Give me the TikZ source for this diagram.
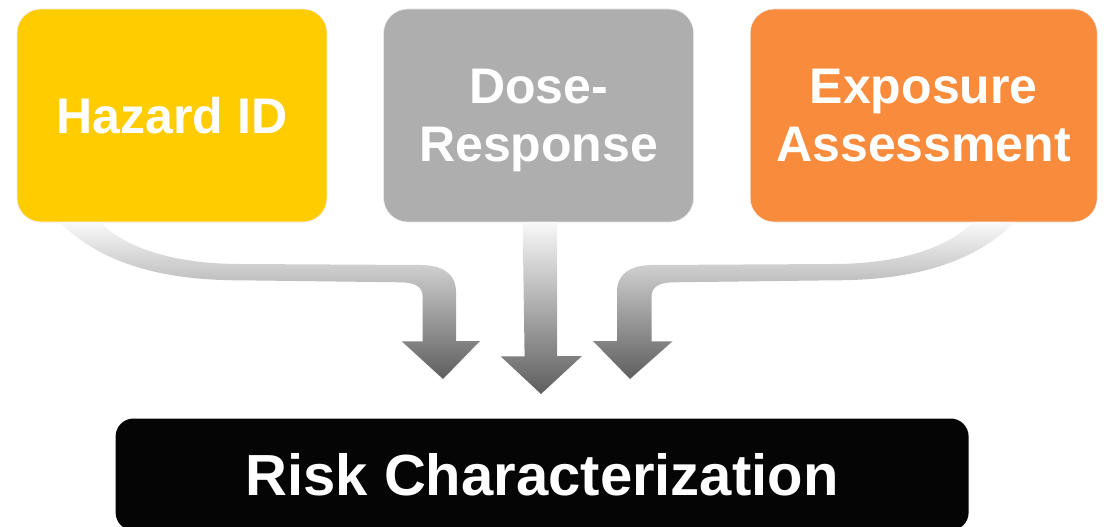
\documentclass[tikz,border=0pt]{standalone}
\usepackage{fontspec}
\setmainfont{Liberation Sans}
\usepackage{xcolor}
\usetikzlibrary{positioning,calc}
\definecolor{hazyellow}{HTML}{FFCC00}
\definecolor{dosegray}{HTML}{AEAEAE}
\definecolor{exporange}{HTML}{F98B3C}
\definecolor{riskblack}{HTML}{050505}
\definecolor{flowtop}{HTML}{FAF9F9}
\definecolor{flowmid}{HTML}{DCD3D8}
\definecolor{flowbot}{HTML}{5E5E5E}

\begin{document}
\begin{tikzpicture}[
  x=1pt, y=-1pt,
  stagebox/.style={rounded corners=24pt, align=center, text=white, inner sep=0pt,
    minimum width=310pt, minimum height=213pt, draw=black!7, line width=0.6pt,
    text depth=0pt, font=\fontsize{50}{57.5}\selectfont\bfseries},
  riskbox/.style={rounded corners=18pt, fill=riskblack, text=white, inner sep=0pt,
    minimum width=853pt, minimum height=112pt,
    font=\fontsize{58}{66}\selectfont\bfseries},
  flow/.style={top color=flowtop, middle color=flowmid, bottom color=flowbot, draw=none}
]
\useasboundingbox (0,0) rectangle (1104,527);

\node[stagebox, fill=hazyellow] (haz) at (172,115.5) {Hazard ID};
\node[stagebox, fill=dosegray, right=56pt of haz] (dose) {Dose-\\Response};
\node[stagebox, fill=exporange, minimum width=347pt, right=56pt of dose] (exp) {Exposure\\Assessment};
\node[riskbox, below=196pt of dose, xshift=3.5pt] (risk) {Risk Characterization};

\coordinate (tipL) at (443,379);
\coordinate (tipM) at (541,394);
\coordinate (tipR) at (630,379);

% curved arrow from hazard box
\path[flow] ($(haz.south west)+(43,0)$) .. controls +(40,40) and +(-80,0) .. ++(180,58)
  -- ++(160,2) .. controls +(18,0) and +(0,-9) .. ++(23,15)
  -- ++(0,44) -- ++(-21,0) -- (tipL) -- ++(37,-38) -- ++(-24,0) -- ++(0,-49)
  .. controls +(0,-20) and +(20,0) .. ++(-36,-27)
  -- ++(-180,-1) .. controls +(-65,0) and +(25,26) .. ++(-140,-42) -- cycle;

% straight arrow from dose-response box
\path[flow] ($(dose.south)+(-16,0)$) -- ++(2,134) -- ++(-24,0) -- (tipM)
  -- ++(41,-38) -- ++(-25,0) -- ++(0,-134) -- cycle;

% curved arrow from exposure box
\path[flow] ($(exp.south east)+(-83,0)$) .. controls +(-40,40) and +(80,0) .. ++(-180,58)
  -- ++(-160,2) .. controls +(-18,0) and +(0,-9) .. ++(-23,15)
  -- ++(0,44) -- ++(21,0) -- (tipR) -- ++(-37,-38) -- ++(24,0) -- ++(0,-49)
  .. controls +(0,-20) and +(-20,0) .. ++(36,-27)
  -- ++(180,-1) .. controls +(65,0) and +(-25,26) .. ++(140,-42) -- cycle;
\end{tikzpicture}
\end{document}
